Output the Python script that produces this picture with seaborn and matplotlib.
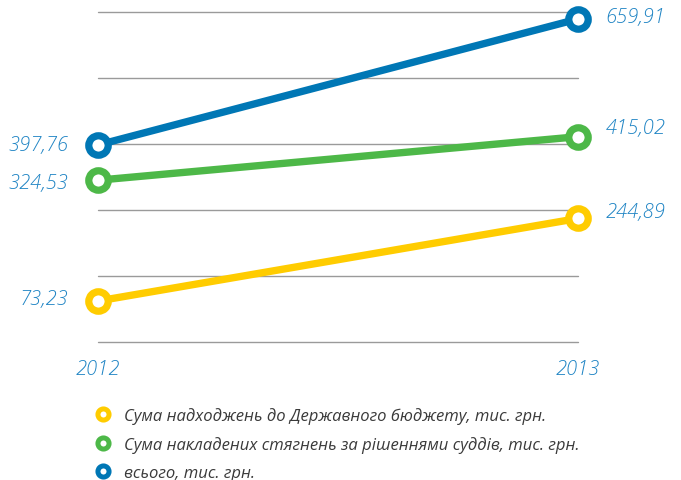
import pandas as pd
import numpy as np
import seaborn as sns
import matplotlib.pyplot as plt
from matplotlib.lines import Line2D

# data
years = [2012, 2013]
series_names = ['Сума надходжень до Державного бюджету, тис. грн.',
                'Сума накладених стягнень за рішеннями суддів, тис. грн.',
                'всього, тис. грн.']
budget = [73.23, 244.89]
penalties = [324.53, 415.02]
total = [397.76, 659.91]
value_labels = {'budget': ['73,23', '244,89'],
                'penalties': ['324,53', '415,02'],
                'total': ['397,76', '659,91']}

colors = ['#FFCC00', '#4DB848', '#0077B5']
text_blue = '#1F84C4'

df = pd.DataFrame({'year': years * 3,
                   'value': budget + penalties + total,
                   'series': [series_names[0]] * 2 + [series_names[1]] * 2 + [series_names[2]] * 2})

sns.set_style('white')
plt.rcParams['font.family'] = ['Open Sans', 'DejaVu Sans']

fig = plt.figure(figsize=(6.81, 4.81), dpi=100)
ax = fig.add_axes([98 / 681, 1 - 343 / 481, 480 / 681, 330 / 481])

sns.lineplot(data=df, x='year', y='value', hue='series', hue_order=series_names,
             palette=colors, linewidth=5.3, marker='o', markersize=14,
             markeredgewidth=5.2, markerfacecolor='white', legend=False,
             clip_on=False, ax=ax, zorder=3)
for line, c in zip(ax.lines, colors):
    line.set_markeredgecolor(c)

ylo, yhi = -12.1, 674.4
ax.set_xlim(2012, 2013)
ax.set_ylim(ylo, yhi)
ax.set_yticks(np.linspace(ylo, yhi, 6))
ax.set_xticks([])
ax.set_yticklabels([])
ax.tick_params(left=False, bottom=False)
ax.grid(axis='y', color='#9a9a9a', linewidth=1)
for gl in ax.get_ygridlines():
    gl.set_clip_on(False)
ax.set_xlabel('')
ax.set_ylabel('')
for s in ax.spines.values():
    s.set_visible(False)

# value labels
lab_kw = dict(color=text_blue, fontsize=14.5, style='italic', fontweight='light')
left_off = {'budget': 1.5, 'penalties': -2, 'total': 0}
right_off = {'budget': 4.5, 'penalties': 6, 'total': 1.5}
for key, vals in [('budget', budget), ('penalties', penalties), ('total', total)]:
    ax.annotate(value_labels[key][0], (years[0], vals[0]), xytext=(-21, left_off[key]),
                textcoords='offset points', ha='right', va='center', **lab_kw)
    ax.annotate(value_labels[key][1], (years[1], vals[1]), xytext=(20, right_off[key]),
                textcoords='offset points', ha='left', va='center', **lab_kw)

# year labels
for yr in years:
    ax.annotate(str(yr), (yr, ylo), xytext=(0, -19.5), textcoords='offset points',
                ha='center', va='center', **lab_kw)

# legend
handles = [Line2D([], [], linestyle='none', marker='o', markersize=8,
                  markeredgewidth=3.6, markeredgecolor=c, markerfacecolor='white')
           for c in colors]
leg = fig.legend(handles, series_names, loc='upper left',
                 bbox_to_anchor=(80 / 681, 1 - 393 / 481), frameon=False,
                 handlelength=1.0, handletextpad=0.75, labelspacing=0.73,
                 prop={'size': 12, 'style': 'italic', 'family': ['Open Sans', 'DejaVu Sans']})
for t in leg.get_texts():
    t.set_color('#3a3a3a')

fig.savefig('out.png', dpi=100)
